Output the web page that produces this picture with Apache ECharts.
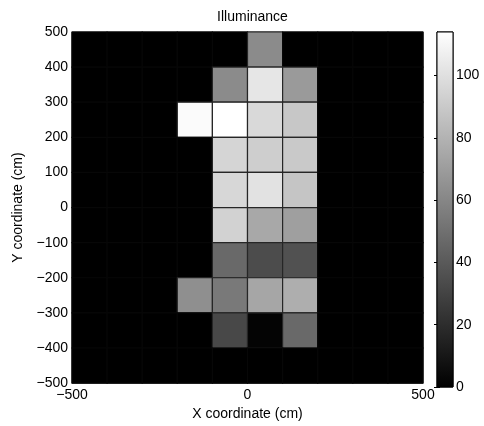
<!DOCTYPE html>
<html><head><meta charset="utf-8">
<script src="https://cdn.jsdelivr.net/npm/echarts@6/dist/echarts.min.js"></script>
<style>html,body{margin:0;padding:0;background:#fff}#c{width:484px;height:426px}</style>
</head><body><div id="c"></div>
<script>
// cell left edges (cm) and cell bottom edges (cm), top row first
const xEdges = [-500, -400, -300, -200, -100, 0, 100, 200, 300, 400];
const yEdges = [400, 300, 200, 100, 0, -100, -200, -300, -400, -500];
const cellSize = 100;
// illuminance values, rows from top (y=400..500) to bottom (y=-500..-400)
const illuminance = [
  [0, 0, 0, 0,   0,  62,  0, 0, 0, 0],
  [0, 0, 0, 0,  62, 103, 69, 0, 0, 0],
  [0, 0, 0, 112, 114, 97, 89, 0, 0, 0],
  [0, 0, 0, 0,  95,  92, 90, 0, 0, 0],
  [0, 0, 0, 0,  96, 101, 88, 0, 0, 0],
  [0, 0, 0, 0,  94,  75, 71, 0, 0, 0],
  [0, 0, 0, 0,  47,  34, 36, 0, 0, 0],
  [0, 0, 0, 64, 54,  74, 78, 0, 0, 0],
  [0, 0, 0, 0,  32,   2, 47, 0, 0, 0],
  [0, 0, 0, 0,   0,   0,  0, 0, 0, 0]
];
const xTickLabels = [-500, 0, 500];
const yTickLabels = [-500, -400, -300, -200, -100, 0, 100, 200, 300, 400, 500];
const colorMin = 0;
const colorMax = 114;
const colorTickLabels = [0, 20, 40, 60, 80, 100];

const cells = [];
illuminance.forEach((row, i) => row.forEach((v, j) => cells.push([xEdges[j], yEdges[i], v])));

const fmt = v => String(v).replace('-', '\u2212');
const FONT = 'Liberation Sans';

const chart = echarts.init(document.getElementById('c'));
chart.setOption({
  animation: false,
  textStyle: { fontFamily: FONT },
  title: {
    text: 'Illuminance', left: 247.5, top: 5, textAlign: 'center',
    textStyle: { fontFamily: FONT, fontSize: 14, fontWeight: 'normal', color: '#000' }
  },
  grid: [
    { left: 72, right: 61, top: 32, bottom: 39, show: true, backgroundColor: '#000', borderColor: '#000', borderWidth: 1 },
    { left: 437, width: 16, top: 32, bottom: 39, show: true, backgroundColor: 'transparent', borderColor: '#000', borderWidth: 1 }
  ],
  xAxis: [
    {
      gridIndex: 0, type: 'value', min: -500, max: 500, interval: 500,
      name: 'X coordinate (cm)', nameLocation: 'middle', nameGap: 22,
      nameTextStyle: { fontFamily: FONT, fontSize: 14, color: '#000' },
      axisLine: { lineStyle: { color: '#000' } },
      axisTick: { show: false },
      splitLine: { show: false },
      axisLabel: {
        fontFamily: FONT, fontSize: 14, color: '#000', margin: 5,
        formatter: v => xTickLabels.includes(v) ? fmt(v) : ''
      }
    },
    { gridIndex: 1, type: 'value', min: 0, max: 1, show: false }
  ],
  yAxis: [
    {
      gridIndex: 0, type: 'value', min: -500, max: 500, interval: 100,
      name: 'Y coordinate (cm)', nameLocation: 'middle', nameGap: 42, nameRotate: 90,
      nameTextStyle: { fontFamily: FONT, fontSize: 14, color: '#000' },
      axisLine: { show: true, lineStyle: { color: '#000' } },
      axisTick: { show: false },
      splitLine: { show: false },
      axisLabel: {
        fontFamily: FONT, fontSize: 14, color: '#000', margin: 4,
        formatter: v => yTickLabels.includes(v) ? fmt(v) : ''
      }
    },
    {
      gridIndex: 1, type: 'value', min: colorMin, max: colorMax, interval: 20, position: 'right',
      axisLine: { show: true, lineStyle: { color: '#000' } },
      axisTick: { show: true, inside: true, length: 3, lineStyle: { color: '#000' } },
      splitLine: { show: false },
      axisLabel: {
        fontFamily: FONT, fontSize: 14, color: '#000', margin: 3, showMaxLabel: false,
        formatter: v => colorTickLabels.includes(v) ? String(v) : ''
      }
    },
    {
      gridIndex: 1, type: 'value', min: colorMin, max: colorMax, interval: 20, position: 'left',
      axisLine: { show: true, lineStyle: { color: '#000' } },
      axisTick: { show: true, inside: true, length: 3, lineStyle: { color: '#000' } },
      splitLine: { show: false },
      axisLabel: { show: false }
    }
  ],
  visualMap: {
    show: false, type: 'continuous', min: colorMin, max: colorMax, dimension: 2,
    seriesIndex: 0, inRange: { color: ['#000000', '#ffffff'] }
  },
  series: [
    {
      type: 'custom', xAxisIndex: 0, yAxisIndex: 0,
      encode: { x: 0, y: 1 },
      data: cells,
      renderItem: function (params, api) {
        const x0 = api.value(0), y0 = api.value(1), v = api.value(2);
        const p0 = api.coord([x0, y0 + cellSize]);
        const p1 = api.coord([x0 + cellSize, y0]);
        return {
          type: 'rect',
          shape: { x: p0[0], y: p0[1], width: p1[0] - p0[0], height: p1[1] - p0[1] },
          style: { fill: api.visual('color'), stroke: v > 0 ? '#262626' : '#070707', lineWidth: 1.2 }
        };
      }
    },
    {
      type: 'custom', xAxisIndex: 1, yAxisIndex: 1,
      encode: { x: 0, y: 1 },
      data: [[0, colorMax]],
      renderItem: function (params, api) {
        const p0 = api.coord([0, colorMax]);
        const p1 = api.coord([1, colorMin]);
        return {
          type: 'rect',
          shape: { x: p0[0], y: p0[1], width: p1[0] - p0[0], height: p1[1] - p0[1] },
          style: {
            fill: new echarts.graphic.LinearGradient(0, 0, 0, 1, [
              { offset: 0, color: '#ffffff' }, { offset: 1, color: '#000000' }
            ]),
            stroke: '#000', lineWidth: 1
          }
        };
      }
    }
  ]
});
</script></body></html>
